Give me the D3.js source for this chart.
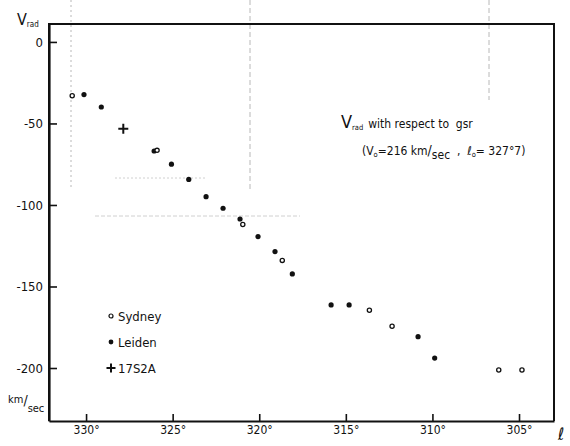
<!DOCTYPE html>
<html>
<head>
<meta charset="utf-8">
<script src="https://cdn.jsdelivr.net/npm/d3@7"></script>
<style>
  html, body { margin: 0; padding: 0; background: #fff; }
  svg { display: block; }
  text { font-family: "DejaVu Sans Condensed", "Liberation Sans Narrow", "Liberation Sans", sans-serif; fill: #111; white-space: pre; }
</style>
</head>
<body>
<div id="chart"></div>
<script>
// galactic longitude (deg) and radial velocity (km/sec) per source
const sydneyL = [330.8, 325.9, 320.95, 318.67, 313.64, 312.33, 306.17, 304.83];
const sydneyV = [-33, -66.5, -112, -134, -164.6, -174.4, -201.2, -201.2];

const leidenL = [330.12, 329.12, 326.07, 325.07, 324.07, 323.07, 322.09, 321.11, 320.07, 319.09, 318.09, 315.85, 314.81, 310.83, 309.87];
const leidenV = [-32.3, -39.9, -66.9, -75, -84.3, -94.9, -102, -108.6, -119.4, -128.6, -142.3, -161.3, -161.3, -180.8, -193.9];

const s17L = [327.85];
const s17V = [-53.2];

const xTicks = [330, 325, 320, 315, 310, 305];
const yTicks = [0, -50, -100, -150, -200];

const W = 570, H = 446;
const margin = { left: 49, top: 24, right: 16, bottom: 25 };

const svg = d3.select('#chart').append('svg')
  .attr('width', W)
  .attr('height', H);

const x = d3.scaleLinear().domain([332.14, 302.98]).range([margin.left, W - margin.right]);
const y = d3.scaleLinear().domain([11, -232.5]).range([margin.top, H - margin.bottom]);

// faint show-through marks from the scanned page
const ghost = svg.append('g')
  .attr('stroke', '#b8b8b8')
  .attr('stroke-width', 1)
  .attr('fill', 'none');
ghost.append('line').attr('x1', 71).attr('x2', 71).attr('y1', 0).attr('y2', 190).attr('stroke-dasharray', '2,3');
ghost.append('line').attr('x1', 250).attr('x2', 250).attr('y1', 0).attr('y2', 190).attr('stroke-dasharray', '5,3');
ghost.append('line').attr('x1', 489).attr('x2', 489).attr('y1', 0).attr('y2', 100).attr('stroke-dasharray', '5,3');
ghost.append('line').attr('x1', 95).attr('x2', 300).attr('y1', 216).attr('y2', 216).attr('stroke-dasharray', '4,2').attr('stroke', '#d0d0d0');
ghost.append('line').attr('x1', 115).attr('x2', 205).attr('y1', 178).attr('y2', 178).attr('stroke-dasharray', '2,2').attr('stroke', '#d0d0d0');

// frame
const [x0, x1] = x.range();
const [y0, y1] = y.range();
svg.append('path')
  .attr('d', `M${x0},${y1}V${y0}H${x1}V${y1}`)
  .attr('fill', 'none')
  .attr('stroke', '#111')
  .attr('stroke-width', 2);

// axes
const xAxis = d3.axisBottom(x)
  .tickValues(xTicks)
  .tickSizeInner(-7)
  .tickSizeOuter(0)
  .tickPadding(4)
  .tickFormat(d => d + '°');

const gx = svg.append('g')
  .attr('transform', `translate(0,${y1})`)
  .call(xAxis);
gx.select('.domain').attr('stroke', '#111').attr('stroke-width', 2.2);
gx.selectAll('.tick line').attr('stroke', '#111').attr('stroke-width', 1.6);
gx.selectAll('.tick text').attr('font-size', 12).attr('fill', '#111');

const yAxis = d3.axisLeft(y)
  .tickValues(yTicks)
  .tickSizeInner(-8)
  .tickSizeOuter(0)
  .tickPadding(6)
  .tickFormat(d => String(d));

const gy = svg.append('g')
  .attr('transform', `translate(${x0},0)`)
  .call(yAxis);
gy.select('.domain').attr('stroke', '#111').attr('stroke-width', 2.2);
gy.selectAll('.tick line').attr('stroke', '#111').attr('stroke-width', 1.6);
gy.selectAll('.tick text').attr('font-size', 13).attr('fill', '#111');

// axis titles
const vt = svg.append('text').attr('x', 17).attr('y', 25).attr('font-size', 16);
vt.append('tspan').text('V');
vt.append('tspan').attr('font-size', 8).attr('dy', 2).text('rad');

const kt = svg.append('text').attr('x', 8).attr('y', 403).attr('font-size', 11);
kt.append('tspan').text('km');
kt.append('tspan').attr('font-size', 14).attr('dy', 2).text('/');
kt.append('tspan').attr('dy', 7).text('sec');

svg.append('text')
  .attr('x', 558).attr('y', 440)
  .attr('font-size', 17)
  .text('ℓ');

// data
const sydney = sydneyL.map((l, i) => ({ l, v: sydneyV[i] }));
const leiden = leidenL.map((l, i) => ({ l, v: leidenV[i] }));
const s17 = s17L.map((l, i) => ({ l, v: s17V[i] }));

svg.append('g').selectAll('circle')
  .data(leiden)
  .join('circle')
  .attr('cx', d => x(d.l))
  .attr('cy', d => y(d.v))
  .attr('r', 2.6)
  .attr('fill', '#111');

svg.append('g').selectAll('circle')
  .data(sydney)
  .join('circle')
  .attr('cx', d => x(d.l))
  .attr('cy', d => y(d.v))
  .attr('r', 2.1)
  .attr('fill', '#fff')
  .attr('stroke', '#111')
  .attr('stroke-width', 1.3);

svg.append('g').selectAll('path')
  .data(s17)
  .join('path')
  .attr('transform', d => `translate(${x(d.l)},${y(d.v)})`)
  .attr('d', 'M-5,0H5M0,-5V5')
  .attr('stroke', '#111')
  .attr('stroke-width', 2);

// legend
const legend = svg.append('g').attr('transform', 'translate(111,0)');
const legendItems = [
  { label: 'Sydney', kind: 'open', y: 316 },
  { label: 'Leiden', kind: 'filled', y: 342 },
  { label: '17S2A', kind: 'plus', y: 368 }
];
legendItems.forEach(it => {
  if (it.kind === 'open') {
    legend.append('circle').attr('cx', 0).attr('cy', it.y).attr('r', 2)
      .attr('fill', '#fff').attr('stroke', '#111').attr('stroke-width', 1.2);
  } else if (it.kind === 'filled') {
    legend.append('circle').attr('cx', 0).attr('cy', it.y).attr('r', 2.4).attr('fill', '#111');
  } else {
    legend.append('path').attr('d', `M-4.5,${it.y}H4.5M0,${it.y - 4.5}V${it.y + 4.5}`)
      .attr('stroke', '#111').attr('stroke-width', 2);
  }
  legend.append('text')
    .attr('x', 7)
    .attr('y', it.y + 5)
    .attr('font-size', 13)
    .text(it.label);
});

// annotation
const a1 = svg.append('text').attr('x', 341).attr('y', 128).attr('font-size', 12);
a1.append('tspan').attr('font-size', 18).text('V');
a1.append('tspan').attr('font-size', 7.5).attr('dy', 2).text('rad');
a1.append('tspan').attr('dy', -2).attr('dx', 5).text('with respect to  gsr');

const a2 = svg.append('text').attr('x', 362).attr('y', 155).attr('font-size', 12);
a2.append('tspan').text('(V');
a2.append('tspan').attr('font-size', 7.5).attr('dy', 2).text('o');
a2.append('tspan').attr('dy', -2).text('=216 km');
a2.append('tspan').attr('font-size', 14).text('/');
a2.append('tspan').attr('dy', 4).text('sec');
a2.append('tspan').attr('dy', -4).text('  ,  ℓ');
a2.append('tspan').attr('font-size', 7.5).attr('dy', 2).text('o');
a2.append('tspan').attr('dy', -2).text('= 327°7)');
</script>
</body>
</html>
